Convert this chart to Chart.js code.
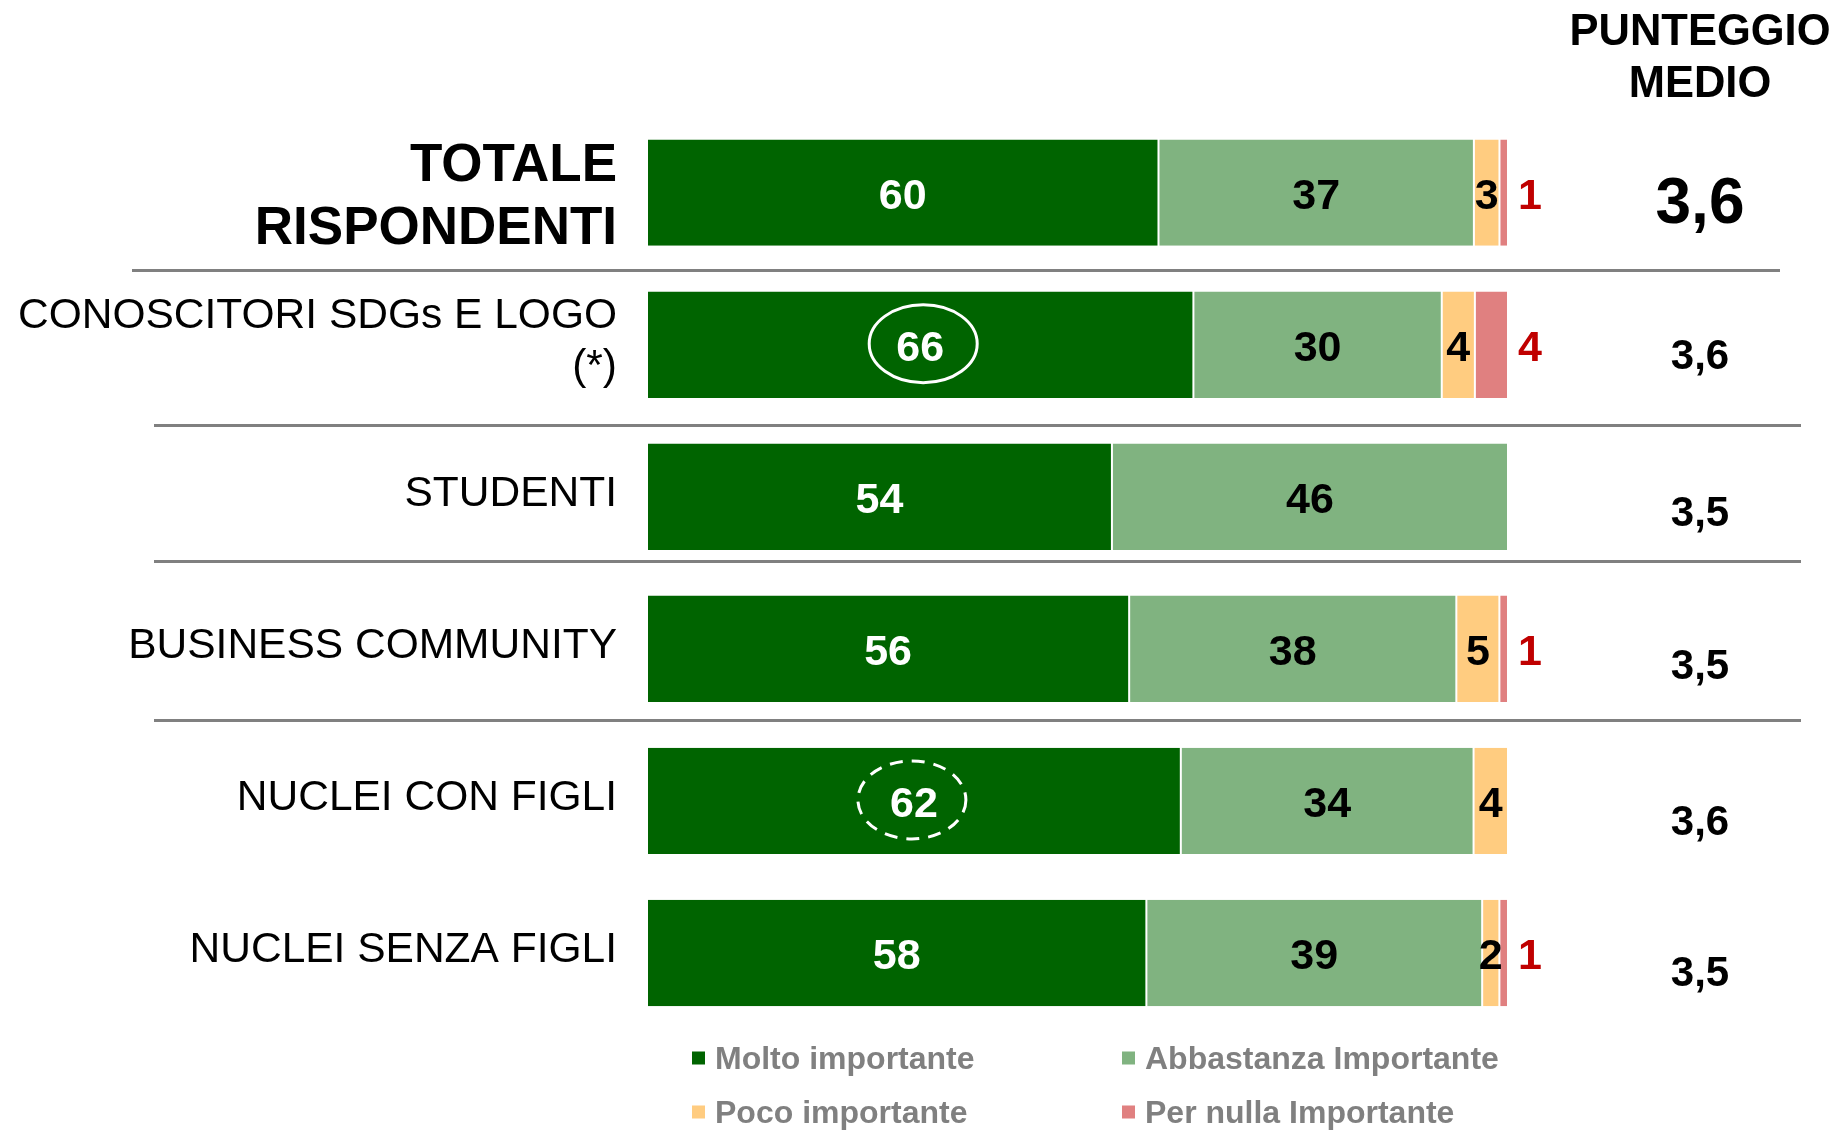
<!DOCTYPE html>
<html>
<head>
<meta charset="utf-8">
<script src="https://cdn.jsdelivr.net/npm/chart.js@4.4.1/dist/chart.umd.min.js"></script>
<style>
html,body{margin:0;padding:0;background:#fff;overflow:hidden}
#wrap{width:1836px;height:1130px;position:relative}
</style>
</head>
<body>
<div id="wrap"><canvas id="c" width="1836" height="1130"></canvas></div>
<script>
// ---------- DATA ----------
const categories = [
  ['TOTALE', 'RISPONDENTI'],
  ['CONOSCITORI SDGs E LOGO', '(*)'],
  'STUDENTI',
  'BUSINESS COMMUNITY',
  'NUCLEI CON FIGLI',
  'NUCLEI SENZA FIGLI'
];
const seriesNames = ['Molto importante', 'Abbastanza Importante', 'Poco importante', 'Per nulla Importante'];
const molto      = [60, 66, 54, 56, 62, 58];
const abbastanza = [37, 30, 46, 38, 34, 39];
const poco       = [3, 4, 0, 5, 4, 2];
const perNulla   = [1, 4, 0, 1, 0, 1];
const punteggioMedio = [3.6, 3.6, 3.5, 3.5, 3.6, 3.5];
const mediaHeader = ['PUNTEGGIO', 'MEDIO'];
const circledSolid = [1];   // row whose first value is circled (solid)
const circledDashed = [4];  // row whose first value is circled (dashed)

// ---------- STYLE ----------
const FONT = "'Liberation Sans', Arial, Helvetica, sans-serif";
const colors = ['#006400', '#80B380', '#FFCC80', '#E08080'];

const rawSeries = [molto, abbastanza, poco, perNulla];
const rowTotals = categories.map((_, i) => rawSeries.reduce((s, a) => s + a[i], 0));

const datasets = rawSeries.map((arr, k) => ({
  label: seriesNames[k],
  data: arr.map((v, i) => (v ? v / rowTotals[i] * 100 : null)),
  raw: arr,
  backgroundColor: colors[k],
  borderColor: '#ffffff',
  borderWidth: { left: 1, right: 1, top: 0, bottom: 0 },
  borderSkipped: false,
  categoryPercentage: 0.7,
  barPercentage: 1,
  clip: false
}));

function fmtIt(v) { return v.toFixed(1).replace('.', ','); }

const decor = {
  id: 'decor',
  beforeDatasetsDraw(chart) {
    const ctx = chart.ctx;
    const y = chart.scales.y;
    // separator lines (positions in category units)
    const seps = [
      { at: 0.51, x0: 132, x1: 1780 },
      { at: 1.53, x0: 154, x1: 1801 },
      { at: 2.42, x0: 154, x1: 1801 },
      { at: 3.47, x0: 154, x1: 1801 }
    ];
    ctx.save();
    ctx.strokeStyle = '#808080';
    ctx.lineWidth = 3;
    seps.forEach(s => {
      const py = Math.round(y.getPixelForValue(s.at)) + 0.5;
      ctx.beginPath();
      ctx.moveTo(s.x0, py);
      ctx.lineTo(s.x1, py);
      ctx.stroke();
    });
    ctx.restore();
  },
  afterDatasetsDraw(chart) {
    const ctx = chart.ctx;
    ctx.save();
    const fs = 43;
    ctx.font = `bold ${fs}px ${FONT}`;
    ctx.textBaseline = 'alphabetic';
    ctx.textAlign = 'center';
    chart.data.datasets.forEach((ds, k) => {
      const meta = chart.getDatasetMeta(k);
      meta.data.forEach((bar, i) => {
        const v = ds.raw[i];
        if (!v) return;
        const by = bar.y + 1 + 0.358 * fs;
        if (k === 3) {
          ctx.fillStyle = '#C00000';
          ctx.fillText(String(v), bar.x + 22, by);
        } else {
          ctx.fillStyle = k === 0 ? '#ffffff' : '#000000';
          ctx.fillText(String(v), (bar.base + bar.x) / 2, by);
        }
      });
    });
    // ellipses around highlighted values
    const meta0 = chart.getDatasetMeta(0);
    ctx.strokeStyle = '#ffffff';
    ctx.lineWidth = 3;
    const drawEll = (i, dashed, dx) => {
      const bar = meta0.data[i];
      const cx = (bar.base + bar.x) / 2 + dx;
      const cy = bar.y - 1;
      ctx.setLineDash(dashed ? [13, 9] : []);
      ctx.beginPath();
      ctx.ellipse(cx, cy, 54, 39, 0, 0, Math.PI * 2);
      ctx.stroke();
    };
    circledSolid.forEach(i => drawEll(i, false, 3));
    circledDashed.forEach(i => drawEll(i, true, -2));
    ctx.setLineDash([]);
    ctx.restore();
  },
  afterDraw(chart) {
    const ctx = chart.ctx;
    const y = chart.scales.y;
    ctx.save();
    ctx.fillStyle = '#000000';
    ctx.textBaseline = 'alphabetic';

    // category labels
    ctx.textAlign = 'right';
    chart.data.labels.forEach((lab, i) => {
      const lines = Array.isArray(lab) ? lab : [lab];
      const size = i === 0 ? 53 : 42.5;
      const weight = i === 0 ? 'bold ' : '';
      const lh = size * 1.2;
      const dy = i === 0 ? 1 : -6;
      const c = y.getPixelForValue(i) + dy;
      ctx.font = `${weight}${size}px ${FONT}`;
      lines.forEach((t, j) => {
        const capC = c + (j - (lines.length - 1) / 2) * lh;
        ctx.fillText(t, 617, capC + 0.358 * size);
      });
    });

    // header of mean column
    ctx.textAlign = 'center';
    ctx.font = `bold 43.5px ${FONT}`;
    ctx.fillText(mediaHeader[0], 1700, 29 + 0.358 * 43.5);
    ctx.fillText(mediaHeader[1], 1700, 81 + 0.358 * 43.5);

    // mean values
    const meanDy = [7, 9, 14, 15, 19, 18];
    punteggioMedio.forEach((m, i) => {
      const size = i === 0 ? 64 : 42;
      ctx.font = `bold ${size}px ${FONT}`;
      const c = y.getPixelForValue(i) + meanDy[i];
      ctx.fillText(fmtIt(m), 1700, c + 0.358 * size);
    });

    // legend (2 x 2 grid)
    const colX = [692, 1122];
    const rowY = [1058, 1112];
    ctx.textAlign = 'left';
    ctx.font = `bold 32px ${FONT}`;
    chart.data.datasets.forEach((ds, k) => {
      const cx = colX[k % 2];
      const cy = rowY[Math.floor(k / 2)];
      ctx.fillStyle = ds.backgroundColor;
      ctx.fillRect(cx, cy - 6.5, 13, 13);
      ctx.fillStyle = '#808080';
      ctx.fillText(ds.label, cx + 23, cy + 0.358 * 32);
    });
    ctx.restore();
  }
};

new Chart(document.getElementById('c'), {
  type: 'bar',
  data: { labels: categories, datasets },
  options: {
    indexAxis: 'y',
    responsive: false,
    animation: false,
    devicePixelRatio: 1,
    layout: { padding: { left: 647, right: 328, top: 116.6, bottom: 101 } },
    scales: {
      x: { display: false, stacked: true, min: 0, max: 100 },
      y: { display: false, stacked: true }
    },
    plugins: {
      legend: { display: false },
      tooltip: { enabled: false }
    }
  },
  plugins: [decor]
});
</script>
</body>
</html>
